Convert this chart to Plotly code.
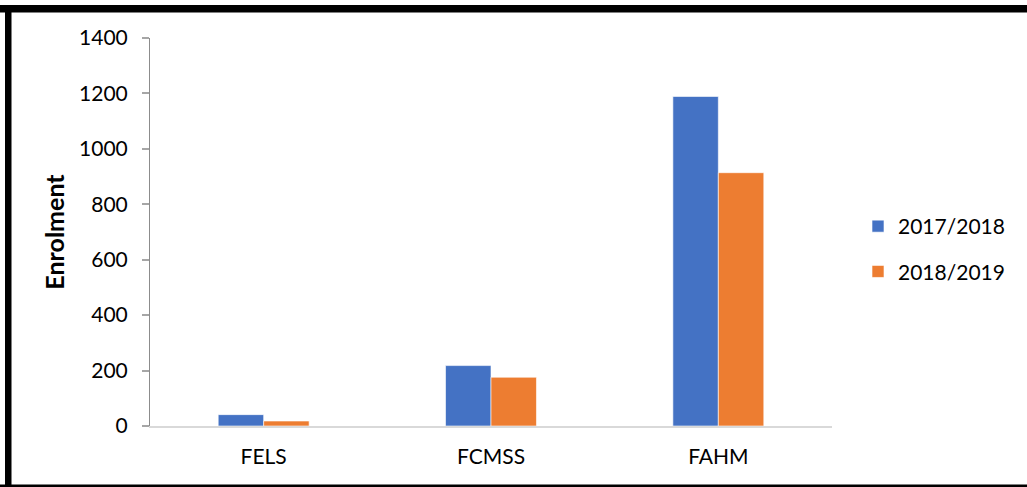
import plotly.graph_objects as go

# Enrolment by faculty for two academic years
faculties = ["FELS", "FCMSS", "FAHM"]
enrol_2017_2018 = [41, 218, 1189]
enrol_2018_2019 = [18, 176, 914]
series_names = ["2017/2018", "2018/2019"]
y_ticks = [0, 200, 400, 600, 800, 1000, 1200, 1400]

W, H = 1027, 487
L, R, T, B = 150, 195, 38, 61
plot_w = W - L - R
plot_h = H - T - B

FONT = "Lato, 'Liberation Sans', Arial, sans-serif"


def px_to_paper_x(px):
    return (px - L) / plot_w


def px_to_paper_y(py):
    return (H - B - py) / plot_h


fig = go.Figure()
fig.add_trace(go.Bar(
    x=faculties, y=enrol_2017_2018, name=series_names[0],
    marker=dict(color="#4472C4", line=dict(color="rgba(255,255,255,0.6)", width=1)),
    legendgroup="a",
))
fig.add_trace(go.Bar(
    x=faculties, y=enrol_2018_2019, name=series_names[1],
    marker=dict(color="#ED7D31", line=dict(color="rgba(255,255,255,0.6)", width=1)),
    legendgroup="b",
))

# Frame around the chart: thick top and left, thin bottom
frame = [
    (0, 5, W + 5, 12.5),      # top
    (5, 5, 11.5, H + 5),      # left
    (0, 484.5, W + 5, H + 5), # bottom
]
shapes = []
for x0, y0, x1, y1 in frame:
    shapes.append(dict(
        type="rect", xref="paper", yref="paper",
        x0=px_to_paper_x(x0), x1=px_to_paper_x(x1),
        y0=px_to_paper_y(y1), y1=px_to_paper_y(y0),
        fillcolor="black", line=dict(width=0), layer="above",
    ))

fig.update_layout(
    width=W, height=H,
    margin=dict(l=L, r=R, t=T, b=B, autoexpand=False),
    paper_bgcolor="white", plot_bgcolor="white",
    barmode="group", bargap=0.6, bargroupgap=0,
    font=dict(family=FONT, size=21, color="#000000"),
    showlegend=True,
    legend=dict(
        x=px_to_paper_x(858), xanchor="left",
        y=px_to_paper_y(206), yanchor="top",
        font=dict(size=21, color="#000000"),
        tracegroupgap=15,
        bgcolor="rgba(0,0,0,0)",
    ),
    shapes=shapes,
    xaxis=dict(
        showline=True, linecolor="#D9D9D9", linewidth=2,
        showgrid=False, ticks="", ticklabelstandoff=11,
        tickfont=dict(size=21),
    ),
    yaxis=dict(
        range=[0, 1400], tickvals=y_ticks,
        showline=True, linecolor="#8C8C8C", linewidth=1,
        showgrid=False, zeroline=False,
        ticks="outside", ticklen=7, tickcolor="#A6A6A6", tickwidth=2,
        ticklabelstandoff=10,
        tickfont=dict(size=21),
        title=dict(text="<b>Enrolment</b>", font=dict(size=25), standoff=7),
    ),
)

fig.write_html("out.html")
